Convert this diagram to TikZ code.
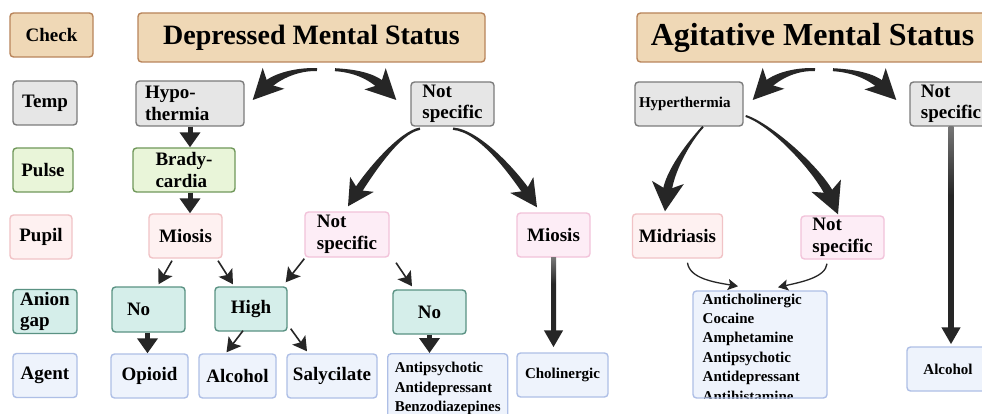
\documentclass[tikz,border=0pt]{standalone}
\usepackage{fontspec}
\setmainfont{Liberation Serif}
\usetikzlibrary{arrows.meta,calc}

\definecolor{tanF}{HTML}{EFD8B6}
\definecolor{tanD}{HTML}{B8845A}
\definecolor{grayF}{HTML}{E6E6E6}
\definecolor{grayD}{HTML}{7C7C7C}
\definecolor{greenF}{HTML}{E9F5D9}
\definecolor{greenD}{HTML}{70985A}
\definecolor{pinkF}{HTML}{FEF1F1}
\definecolor{pinkD}{HTML}{F1C3C6}
\definecolor{lavF}{HTML}{FDEDF6}
\definecolor{lavD}{HTML}{F2C3DA}
\definecolor{tealF}{HTML}{D5EEEA}
\definecolor{tealD}{HTML}{5A9283}
\definecolor{bluF}{HTML}{EEF3FC}
\definecolor{bluD}{HTML}{AEBFE6}
\definecolor{arrowc}{HTML}{262626}

\pgfdeclareverticalshading{fadeln}{100bp}{color(0bp)=(arrowc); color(58bp)=(arrowc); color(100bp)=(black!8)}

\newcommand\fmain{\fontsize{19}{21.5}\selectfont\bfseries}
\newcommand\fsmall{\fontsize{15}{19.4}\selectfont\bfseries}

% tapered curved arrow: start, control1, control2, tip, half width start, half width end, head length, head half width
\newcommand\taperarrow[8]{%
  \coordinate (tpa) at #1;
  \coordinate (tpb) at #2;
  \coordinate (tpc) at #3;
  \coordinate (tpd) at #4;
  \coordinate (tpe) at ($(tpd)!{0.6*#7}!(tpc)$);
  \coordinate (tph) at ($(tpd)!#7!(tpc)$);
  \coordinate (tpi) at ($(tpd)!{0.74*#7}!(tpc)$);
  \fill[arrowc] ($(tpa)!#5!90:(tpb)$) .. controls ($(tpb)!#5!-90:(tpa)$) and ($(tpc)!#6!90:(tpe)$) .. ($(tpe)!#6!-90:(tpc)$)
     -- ($(tpe)!#6!90:(tpc)$) .. controls ($(tpc)!#6!-90:(tpe)$) and ($(tpb)!#5!90:(tpa)$) .. ($(tpa)!#5!-90:(tpb)$) -- cycle;
  \fill[arrowc] (tpd) -- ($(tph)!#8!90:(tpd)$) -- (tpi) -- ($(tph)!#8!-90:(tpd)$) -- cycle;
}

\tikzset{
  bx/.style={rounded corners=3.5pt, line width=1.4pt, inner sep=0pt, font=\fmain, align=center, text=black},
  dims/.style 2 args={minimum width=#1pt, minimum height=#2pt},
  chkbox/.style={bx, fill=tanF, draw=tanD},
  tmpbox/.style={bx, fill=grayF, draw=grayD},
  pulbox/.style={bx, fill=greenF, draw=greenD},
  pupbox/.style={bx, fill=pinkF, draw=pinkD},
  pupbbox/.style={bx, fill=lavF, draw=lavD},
  anibox/.style={bx, fill=tealF, draw=tealD},
  agtbox/.style={bx, fill=bluF, draw=bluD},
  thinarr/.style={draw=arrowc, line width=1.6pt, -{Stealth[length=14pt,width=16pt,inset=3pt]}},
  stubarr/.style={draw=arrowc, line width=5pt, -{Triangle[length=15pt,width=20pt]}},
  arcarr/.style={draw=arrowc, line width=1.3pt, -{Stealth[length=10pt,width=11pt,inset=2pt]}},
  gradarr/.style={draw=arrowc, line width=5pt, -{Triangle[length=17pt,width=18pt]}},
}

\begin{document}
\begin{tikzpicture}[x=1pt,y=-1pt]
\useasboundingbox (0,0) rectangle (982,414);
\fill[white] (0,0) rectangle (982,414);
\clip (0,0) rectangle (982,414);

% row: Check
\node[chkbox, dims={83}{44}] (check) at (51.5,35) {Check};
\node[chkbox, dims={347}{49}, font=\fontsize{28}{32}\selectfont\bfseries] (dms) at (311.5,37.5) {Depressed Mental Status};
\node[chkbox, dims={351}{49}, font=\fontsize{32}{36}\selectfont\bfseries] (ams) at (812.5,37.5) {Agitative Mental Status};

% row: Temp
\node[tmpbox, dims={64}{44}] (temp) at (45,103) {Temp};
\node[tmpbox, dims={108}{45}, align=left, text width=90pt, inner xsep=9pt] (hypo) at (190,103.5) {Hypo-\\thermia};
\node[tmpbox, dims={83}{44}, align=left] (nsT) at (452.5,104) {Not\\specific};
\node[tmpbox, dims={108}{44}, font=\fsmall, align=left, text width=100pt, inner xsep=4pt] (hyper) at (689,104) {Hyperthermia};
\node[tmpbox, dims={82}{44}, align=left] (nsTb) at (951,104) {Not\\specific};

% row: Pulse
\node[pulbox, dims={60}{44}] (pulse) at (43,170) {Pulse};
\node[pulbox, dims={102}{44}, align=left] (brady) at (184,170) {Brady-\\cardia};

% row: Pupil
\node[pupbox, dims={62}{44}] (pupil) at (41,237) {Pupil};
\node[pupbox, dims={73}{44}] (miosisL) at (185.5,236) {Miosis};
\node[pupbbox, dims={84}{45}, align=left] (nsP) at (347,234.5) {Not\\specific};
\node[pupbbox, dims={73}{44}] (miosisR) at (553.5,235) {Miosis};
\node[pupbox, dims={90}{44}] (midr) at (677.5,236) {Midriasis};
\node[pupbbox, dims={83}{43}, align=left] (nsPb) at (842.5,237.5) {Not\\specific};

% row: Anion gap
\node[anibox, dims={64}{44}, align=left] (anion) at (45,311.5) {Anion\\gap};
\node[anibox, dims={73}{45}, align=left, text width=43pt, inner xsep=15pt] (noL) at (148.5,309.5) {No};
\node[anibox, dims={72}{44}] (high) at (251,309) {High};
\node[anibox, dims={73}{44}] (noR) at (429.5,312) {No};

% row: Agent
\node[agtbox, dims={64}{44}] (agent) at (45,375.5) {Agent};
\node[agtbox, dims={77}{44}] (opioid) at (149.5,376) {Opioid};
\node[agtbox, dims={77}{44}] (alcL) at (237.5,376) {Alcohol};
\node[agtbox, dims={90}{44}] (salyc) at (332,376) {Salycilate};
\node[agtbox, dims={120}{70}, align=left, font=\fsmall, anchor=north west] (antipsy) at (387,353) {Antipsychotic\\Antidepressant\\Benzodiazepines};
\node[agtbox, dims={91}{44}, font=\fsmall] (cholin) at (562.5,375) {Cholinergic};
\node[agtbox, dims={134}{107}, path picture={
  \node[draw=none, fill=none, inner sep=0pt, minimum width=0pt, minimum height=0pt, text=black, align=left, font=\fsmall, anchor=north west]
    (antichtxt) at ([xshift=9pt,yshift=-2pt]path picture bounding box.north west)
    {Anticholinergic\\Cocaine\\Amphetamine\\Antipsychotic\\Antidepressant\\Antihistamine};
}] (antich) at (760,344.5) {};
\node[agtbox, dims={82}{44}, font=\fsmall] (alcR) at (948,369) {Alcohol};

% big tapered arrows
\taperarrow{($(dms.south)+(5.5,7)$)}{($(dms.south)+(-11,6)$)}{($(hypo.east)+(32,-28.5)$)}{($(hypo.east)+(8,-3.5)$)}{1.5pt}{4.5pt}{30pt}{15pt}
\taperarrow{($(dms.south)+(23.5,7)$)}{($(dms.south)+(40.5,8)$)}{($(nsT.west)+(-39,-29)$)}{($(nsT.west)+(-14,-4)$)}{1.5pt}{4.5pt}{30pt}{15pt}
\taperarrow{($(nsT.south)+(-32.5,2)$)}{($(nsT.south)+(-52.5,5)$)}{($(nsP.north)+(22.6,-39)$)}{($(nsP.north)+(1,-5)$)}{1.2pt}{4pt}{26pt}{14pt}
\taperarrow{($(nsT.south)+(0.5,2)$)}{($(nsT.south)+(27.5,4)$)}{($(miosisR.north)+(-39,-38)$)}{($(miosisR.north)+(-16.5,-5)$)}{1.2pt}{4pt}{27pt}{14pt}
\taperarrow{($(hyper.south)+(14,0)$)}{($(hyper.south)+(1,14)$)}{($(midr.north)+(-8.5,-42)$)}{($(midr.north)+(-12.5,-2)$)}{1pt}{4.5pt}{29pt}{16pt}
\taperarrow{($(hyper.east)+(2,12)$)}{($(hyper.east)+(29,21)$)}{($(nsPb.north)+(-21.5,-42)$)}{($(nsPb.north)+(-4.5,-1)$)}{1pt}{4.5pt}{31pt}{16pt}
\taperarrow{($(ams.south)+(2.5,7)$)}{($(ams.south)+(-14.5,6)$)}{($(hyper.east)+(33,-29)$)}{($(hyper.east)+(9,-4)$)}{1.5pt}{4.5pt}{30pt}{15pt}
\taperarrow{($(ams.south)+(20.5,7)$)}{($(ams.south)+(37.5,8)$)}{($(nsTb.west)+(-38,-29)$)}{($(nsTb.west)+(-13,-4)$)}{1.5pt}{4.5pt}{30pt}{15pt}

% short vertical arrows
\draw[stubarr] (hypo.south) -- (hypo.south |- brady.north);
\draw[stubarr] (brady.south -| hypo.south) -- (miosisL.north -| hypo.south);
\draw[stubarr] ($(noL.south)+(-1,0)$) -- ($(noL.south |- opioid.north)+(-1,0)$);
\draw[stubarr] (noR.south) -- (noR.south |- antipsy.north);

% thin diagonal arrows
\draw[thinarr] ($(miosisL.south)+(-13.5,2)$) -- ($(noL.north)+(10,-2)$);
\draw[thinarr] ($(miosisL.south)+(32.5,2)$) -- ($(high.north)+(-18,-2)$);
\draw[thinarr] ($(nsP.south west)+(0,1)$) -- ($(high.north east)+(-2,-4)$);
\draw[thinarr] ($(nsP.south)+(49,5)$) -- ($(noR.north)+(-17.5,-3)$);
\draw[thinarr] ($(high.south)+(-8,-1)$) -- ($(alcL.north)+(-11,-1)$);
\draw[thinarr] ($(high.south east)+(3,-3)$) -- ($(salyc.north)+(-25,-2)$);

% thin arcs to the agitative agent list
\draw[arcarr] ($(midr.south)+(10,4)$) .. controls ($(midr.south)+(12,20)$) and ($(antich.north)+(-45,-8)$) .. ($(antich.north)+(-22,-4)$);
\draw[arcarr] ($(nsPb.south)+(-15.5,4)$) .. controls ($(nsPb.south)+(-17,18)$) and ($(antich.north)+(40,-8)$) .. ($(antich.north)+(18,-3)$);

% gradient arrows
\shade[shading=fadeln] ($(miosisR.south)+(-2.5,0)$) rectangle ($(miosisR.south |- cholin.north)+(2.5,-18)$);
\draw[gradarr] ($(miosisR.south |- cholin.north)+(0,-24)$) -- ($(miosisR.south |- cholin.north)+(0,-5)$);
\shade[shading=fadeln] ($(nsTb.south)+(-2.5,0)$) rectangle ($(nsTb.south |- alcR.north)+(2.5,-18)$);
\draw[gradarr] ($(nsTb.south |- alcR.north)+(0,-24)$) -- ($(nsTb.south |- alcR.north)+(0,-2)$);
\end{tikzpicture}
\end{document}
